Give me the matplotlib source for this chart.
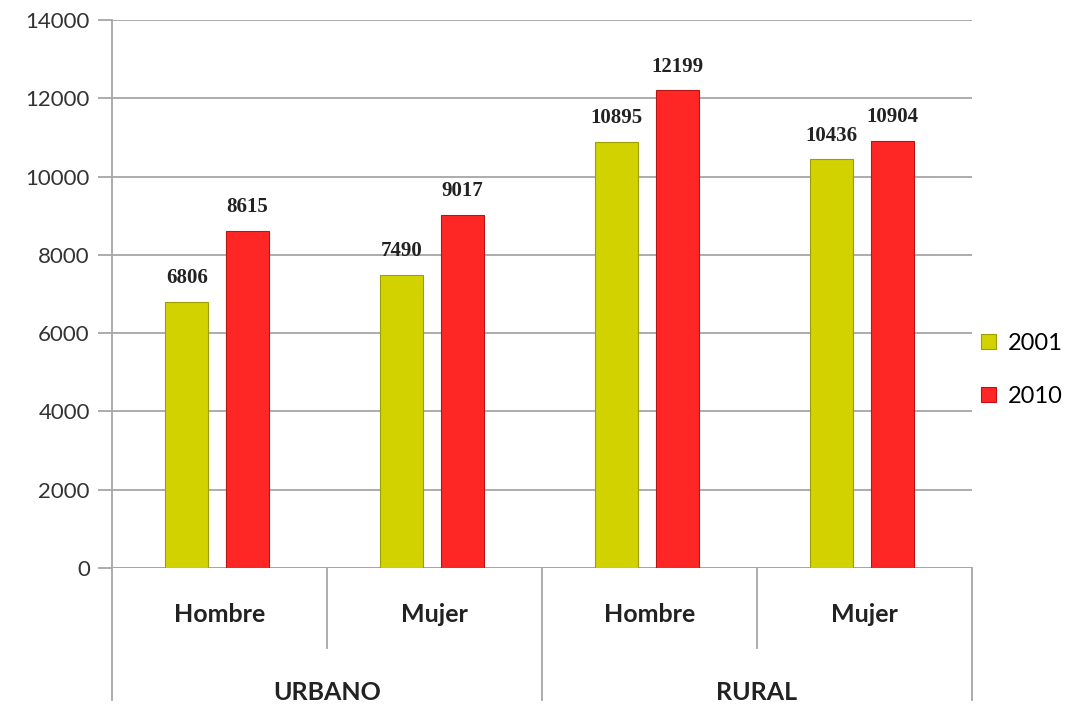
import numpy as np
import matplotlib
matplotlib.use("Agg")
import matplotlib.pyplot as plt

# data
sexo      = ["Hombre", "Mujer", "Hombre", "Mujer"]
area      = ["URBANO", "RURAL"]
anios     = ["2001", "2010"]
val_2001  = [6806, 7490, 10895, 10436]
val_2010  = [8615, 9017, 12199, 10904]

YELLOW = "#D2D200"
RED    = "#FF2626"
GRID   = "#A6A6A6"

fig = plt.figure(figsize=(10.75, 7.06), dpi=100)
ax = fig.add_axes([0.1042, 0.1955, 0.8, 0.7762])

x = np.arange(len(sexo))
w = 0.2
b1 = ax.bar(x - 0.152, val_2001, w, color=YELLOW, edgecolor="#9E9E00", linewidth=0.8, label=anios[0], zorder=3)
b2 = ax.bar(x + 0.128, val_2010, w, color=RED, edgecolor="#B81414", linewidth=0.8, label=anios[1], zorder=3)

for bars in (b1, b2):
    for r in bars:
        ax.annotate(f"{int(r.get_height())}", (r.get_x() + r.get_width() / 2, r.get_height()),
                    xytext=(0, 10), textcoords="offset points", ha="center", va="bottom",
                    fontsize=15, fontweight="bold", family="Liberation Serif", color="#222222")

ax.set_ylim(0, 14000)
ax.set_xlim(-0.5, 3.5)
ax.set_yticks(np.arange(0, 14001, 2000))
ax.yaxis.grid(True, color=GRID, linewidth=1.3, zorder=0)
ax.tick_params(axis="y", length=10, color=GRID, width=1.3, labelsize=16, pad=6, labelcolor="#333333")
for lab in ax.get_yticklabels():
    lab.set_family("Lato")
ax.set_xticks([])
for s in ["top", "right", "bottom"]:
    ax.spines[s].set_visible(False)
ax.spines["left"].set_color(GRID)
ax.spines["left"].set_linewidth(1.3)
ax.axhline(0, color=GRID, linewidth=1.3, zorder=2)

# two-level category axis
tr = ax.get_xaxis_transform()
for xs, depth in zip(np.arange(-0.5, 3.6, 1.0), [-0.241, -0.146, -0.241, -0.146, -0.241]):
    ax.plot([xs, xs], [0, depth], color=GRID, linewidth=1.3, transform=tr, clip_on=False)
for xi, lab in zip(x, sexo):
    ax.text(xi, -0.084, lab, transform=tr, ha="center", va="center",
            fontsize=18, fontweight="bold", family="Lato", color="#222222")
for i, lab in enumerate(area):
    ax.text(0.5 + 2 * i, -0.228, lab, transform=tr, ha="center", va="center",
            fontsize=18, fontweight="bold", family="Lato", color="#222222")

leg = ax.legend(loc="center left", bbox_to_anchor=(1.0, 0.362), frameon=False,
                prop={"family": "Lato", "size": 17}, handlelength=0.6, handleheight=0.6,
                handletextpad=0.5, labelspacing=1.35, borderaxespad=0.2, borderpad=0.2)

fig.savefig("out.png", dpi=100)
